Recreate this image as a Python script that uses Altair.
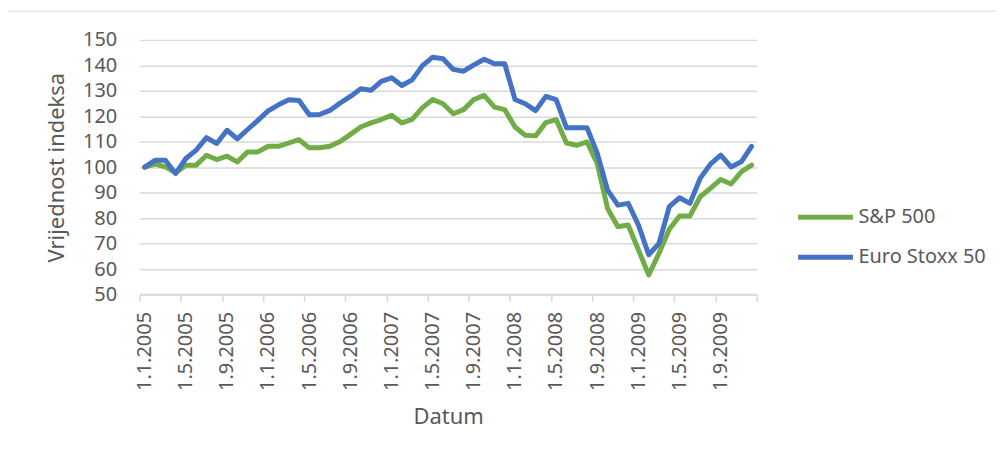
import altair as alt
import pandas as pd

# Monthly index values, Jan 2005 .. Dec 2009 (index 0..59)
sp500 = [100, 101.2, 100.1, 97.8, 100.8, 100.8, 104.7, 103, 104.3, 102.1,
         106, 106, 108.2, 108.2, 109.5, 110.8, 107.6, 107.6, 108.2, 110.1,
         112.9, 115.8, 117.4, 118.7, 120.4, 117.4, 118.8, 123.4, 126.6, 124.9,
         121, 122.6, 126.6, 128.2, 123.6, 122.6, 115.8, 112.5, 112.3, 117.5,
         118.7, 109.5, 108.6, 109.9, 101.4, 83.8, 76.6, 77.3, 67.5, 57.7,
         66.2, 75.6, 80.8, 80.8, 88.4, 91.7, 95.2, 93.4, 98.2, 100.8]
stoxx50 = [100, 102.7, 102.7, 97.5, 103.4, 106.7, 111.6, 109.3, 114.5, 111.1,
           114.8, 118.4, 122.1, 124.5, 126.5, 126.2, 120.6, 120.7, 122.3, 125.2,
           127.8, 130.8, 130.2, 133.7, 135.1, 132.1, 134.3, 139.9, 143.2, 142.6,
           138.4, 137.7, 140.2, 142.4, 140.6, 140.6, 126.6, 124.9, 122.2, 127.8,
           126.5, 115.5, 115.5, 115.5, 105.4, 91, 85.1, 85.8, 77.3, 65.6,
           70.1, 84.5, 88, 85.8, 95.6, 101.2, 104.7, 100.1, 102.1, 108.2]
series_names = ["S&P 500", "Euro Stoxx 50"]
series_colors = ["#70AD47", "#4472C4"]
tick_labels = ["1.1.2005", "1.5.2005", "1.9.2005", "1.1.2006", "1.5.2006",
               "1.9.2006", "1.1.2007", "1.5.2007", "1.9.2007", "1.1.2008",
               "1.5.2008", "1.9.2008", "1.1.2009", "1.5.2009", "1.9.2009", ""]
y_ticks = [50, 60, 70, 80, 90, 100, 110, 120, 130, 140, 150]

months = list(range(len(sp500)))
df = pd.DataFrame({
    "idx": months * 2,
    "value": sp500 + stoxx50,
    "series": [series_names[0]] * len(sp500) + [series_names[1]] * len(stoxx50),
})

FONT = "Noto Sans"
TXT = "#595959"
GRID = "#D9D9D9"

tick_vals = [i * 4 - 0.5 for i in range(len(tick_labels))]
label_arr = "[" + ",".join("'" + t + "'" for t in tick_labels) + "]"

x_enc = alt.X(
    "idx:Q",
    scale=alt.Scale(domain=[-0.5, len(sp500) - 0.5], nice=False, zero=False),
    axis=alt.Axis(
        values=tick_vals,
        labelExpr=label_arr + "[round((datum.value + 0.5) / 4)]",
        labelAngle=270,
        labelOffset=5,
        labelPadding=10,
        tickSize=7,
        tickColor=GRID,
        tickWidth=1.5,
        domainColor=GRID,
        domainWidth=1.5,
        grid=False,
        title="Datum",
        titlePadding=16,
        labelFlush=False,
    ),
)
y_enc = alt.Y(
    "value:Q",
    scale=alt.Scale(domain=[50, 150], nice=False, zero=False),
    axis=alt.Axis(
        values=y_ticks,
        tickSize=0,
        ticks=False,
        domain=False,
        gridColor=GRID,
        gridWidth=1.5,
        labelPadding=23,
        title="Vrijednost indeksa",
        titlePadding=14,
    ),
)
color_enc = alt.Color(
    "series:N",
    scale=alt.Scale(domain=series_names, range=series_colors),
    legend=alt.Legend(
        title=None,
        orient="none",
        legendX=658,
        legendY=148,
        symbolType="stroke",
        symbolSize=3025,
        symbolStrokeWidth=5,
        labelOffset=3,
        rowPadding=-4,
        padding=0,
    ),
)

base = alt.Chart(df)
green = base.transform_filter(alt.datum.series == series_names[0]).mark_line(
    strokeWidth=5, strokeCap="round", strokeJoin="round"
).encode(x=x_enc, y=y_enc, color=color_enc)
blue = base.transform_filter(alt.datum.series == series_names[1]).mark_line(
    strokeWidth=5, strokeCap="round", strokeJoin="round"
).encode(x=x_enc, y=y_enc, color=color_enc)

# light chart-area border (top and left edges visible in frame)
border_top = alt.Chart(pd.DataFrame({"a": [0]})).mark_rule(color=GRID, strokeWidth=1).encode(
    x=alt.value(-133), x2=alt.value(870), y=alt.value(-28.8)
)
border_left = alt.Chart(pd.DataFrame({"a": [0]})).mark_rule(color=GRID, strokeWidth=1).encode(
    x=alt.value(-133), y=alt.value(-28.8), y2=alt.value(430)
)

chart = alt.layer(border_top, border_left, green, blue).properties(
    width=619,
    height=255.4,
    padding={"left": 132, "top": 31.3, "right": 240, "bottom": 160},
    autosize=alt.AutoSizeParams(type="none"),
).configure_view(stroke=None).configure_axis(
    labelFont=FONT, labelFontSize=20, labelColor=TXT,
    titleFont=FONT, titleFontSize=22, titleColor=TXT, titleFontWeight="normal",
).configure_legend(
    labelFont=FONT, labelFontSize=20, labelColor=TXT,
)

chart.save("out.html", embed_options={"renderer": "svg", "actions": False})
